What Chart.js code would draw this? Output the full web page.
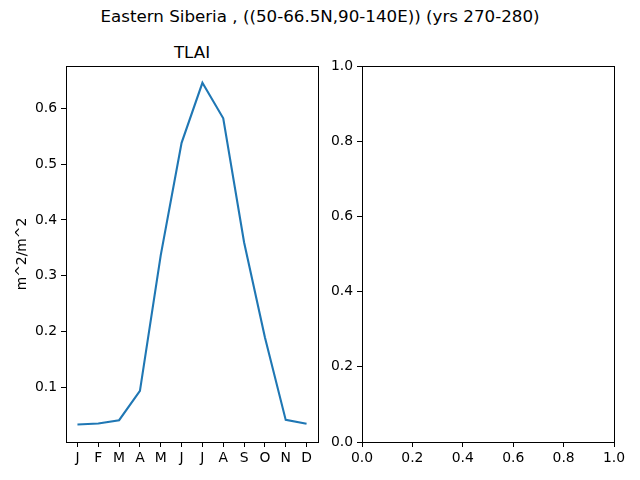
<!DOCTYPE html>
<html>
<head>
<meta charset="utf-8">
<script src="https://cdn.jsdelivr.net/npm/chart.js@4.4.1/dist/chart.umd.min.js"></script>
<style>
    body { margin: 0; background: #fff; }
    #wrap { position: relative; width: 640px; height: 480px; background: #fff; font-family: "DejaVu Sans", sans-serif; }
    canvas { position: absolute; top: 0; }
    .title { position: absolute; text-align: center; color: #000; white-space: nowrap; }
</style>
</head>
<body>
<div id="wrap">
    <div class="title" id="supTitle" style="left:0; width:640px; top:6px; font-size:16.7px;">Eastern Siberia , ((50-66.5N,90-140E)) (yrs 270-280)</div>
    <div class="title" id="subTitle" style="left:66px; width:252px; top:42px; font-size:16.7px;">TLAI</div>
    <canvas id="leftChart" width="330" height="480" style="left:0;"></canvas>
    <canvas id="rightChart" width="310" height="480" style="left:330px;"></canvas>
</div>
<script>
// Monthly TLAI values
const months = ['J', 'F', 'M', 'A', 'M', 'J', 'J', 'A', 'S', 'O', 'N', 'D'];
const tlai = [0.0337, 0.0355, 0.0414, 0.094, 0.337, 0.538, 0.6455, 0.582, 0.36, 0.19, 0.042, 0.035];
const leftYTicks = [0.1, 0.2, 0.3, 0.4, 0.5, 0.6];
const rightTicks = [0.0, 0.2, 0.4, 0.6, 0.8, 1.0];

const tickFont = { family: 'DejaVu Sans', size: 13.9 };

// draws the top and right spines like matplotlib
const frameBox = {
    id: 'frameBox',
    afterDraw(chart) {
        const a = chart.chartArea;
        const ctx = chart.ctx;
        ctx.save();
        ctx.strokeStyle = '#000';
        ctx.lineWidth = 1;
        ctx.strokeRect(a.left + 0.5, a.top + 0.5, a.right - a.left, a.bottom - a.top);
        ctx.restore();
    }
};

function axisGrid() {
    return { drawOnChartArea: false, drawTicks: true, tickLength: 5, color: '#000', tickColor: '#000' };
}

function fixWidth(w) {
    return function(scale) { scale.width = w; };
}
function fixHeight(h) {
    return function(scale) { scale.height = h; };
}

// Left panel: TLAI seasonal cycle
const ymin = 0.0024, ymax = 0.6756;
new Chart(document.getElementById('leftChart'), {
    type: 'line',
    data: {
        datasets: [{
            data: tlai.map((v, i) => ({ x: i, y: v })),
            borderColor: '#1f77b4',
            borderWidth: 2.1,
            pointRadius: 0,
            tension: 0,
            fill: false
        }]
    },
    options: {
        responsive: false,
        animation: false,
        layout: { padding: { left: 0, right: 12, top: 66, bottom: 0 } },
        plugins: { legend: { display: false }, tooltip: { enabled: false } },
        scales: {
            x: {
                type: 'linear',
                min: -0.55,
                max: 11.55,
                afterBuildTicks: s => { s.ticks = months.map((m, i) => ({ value: i })); },
                afterFit: fixHeight(38),
                grid: axisGrid(),
                border: { color: '#000', width: 1 },
                ticks: {
                    color: '#000',
                    font: tickFont,
                    padding: 3,
                    maxRotation: 0,
                    autoSkip: false,
                    callback: v => months[v]
                }
            },
            y: {
                type: 'linear',
                min: ymin,
                max: ymax,
                afterBuildTicks: s => { s.ticks = leftYTicks.map(v => ({ value: v })); },
                afterFit: fixWidth(66),
                grid: axisGrid(),
                border: { color: '#000', width: 1 },
                title: {
                    display: true,
                    text: 'm^2/m^2',
                    color: '#000',
                    font: tickFont,
                    padding: { top: 14, bottom: 0 }
                },
                ticks: {
                    color: '#000',
                    font: tickFont,
                    padding: 4,
                    callback: v => v.toFixed(1)
                }
            }
        }
    },
    plugins: [frameBox]
});

// Right panel: empty axes
new Chart(document.getElementById('rightChart'), {
    type: 'line',
    data: { datasets: [] },
    options: {
        responsive: false,
        animation: false,
        layout: { padding: { left: 0, right: 26, top: 66, bottom: 0 } },
        plugins: { legend: { display: false }, tooltip: { enabled: false } },
        scales: {
            x: {
                type: 'linear',
                min: 0,
                max: 1,
                afterBuildTicks: s => { s.ticks = rightTicks.map(v => ({ value: v })); },
                afterFit: fixHeight(38),
                grid: axisGrid(),
                border: { color: '#000', width: 1 },
                ticks: { color: '#000', font: tickFont, padding: 3, maxRotation: 0, autoSkip: false, callback: v => v.toFixed(1) }
            },
            y: {
                type: 'linear',
                min: 0,
                max: 1,
                afterBuildTicks: s => { s.ticks = rightTicks.map(v => ({ value: v })); },
                afterFit: fixWidth(32),
                grid: axisGrid(),
                border: { color: '#000', width: 1 },
                ticks: { color: '#000', font: tickFont, padding: 4, callback: v => v.toFixed(1) }
            }
        }
    },
    plugins: [frameBox]
});
</script>
</body>
</html>
